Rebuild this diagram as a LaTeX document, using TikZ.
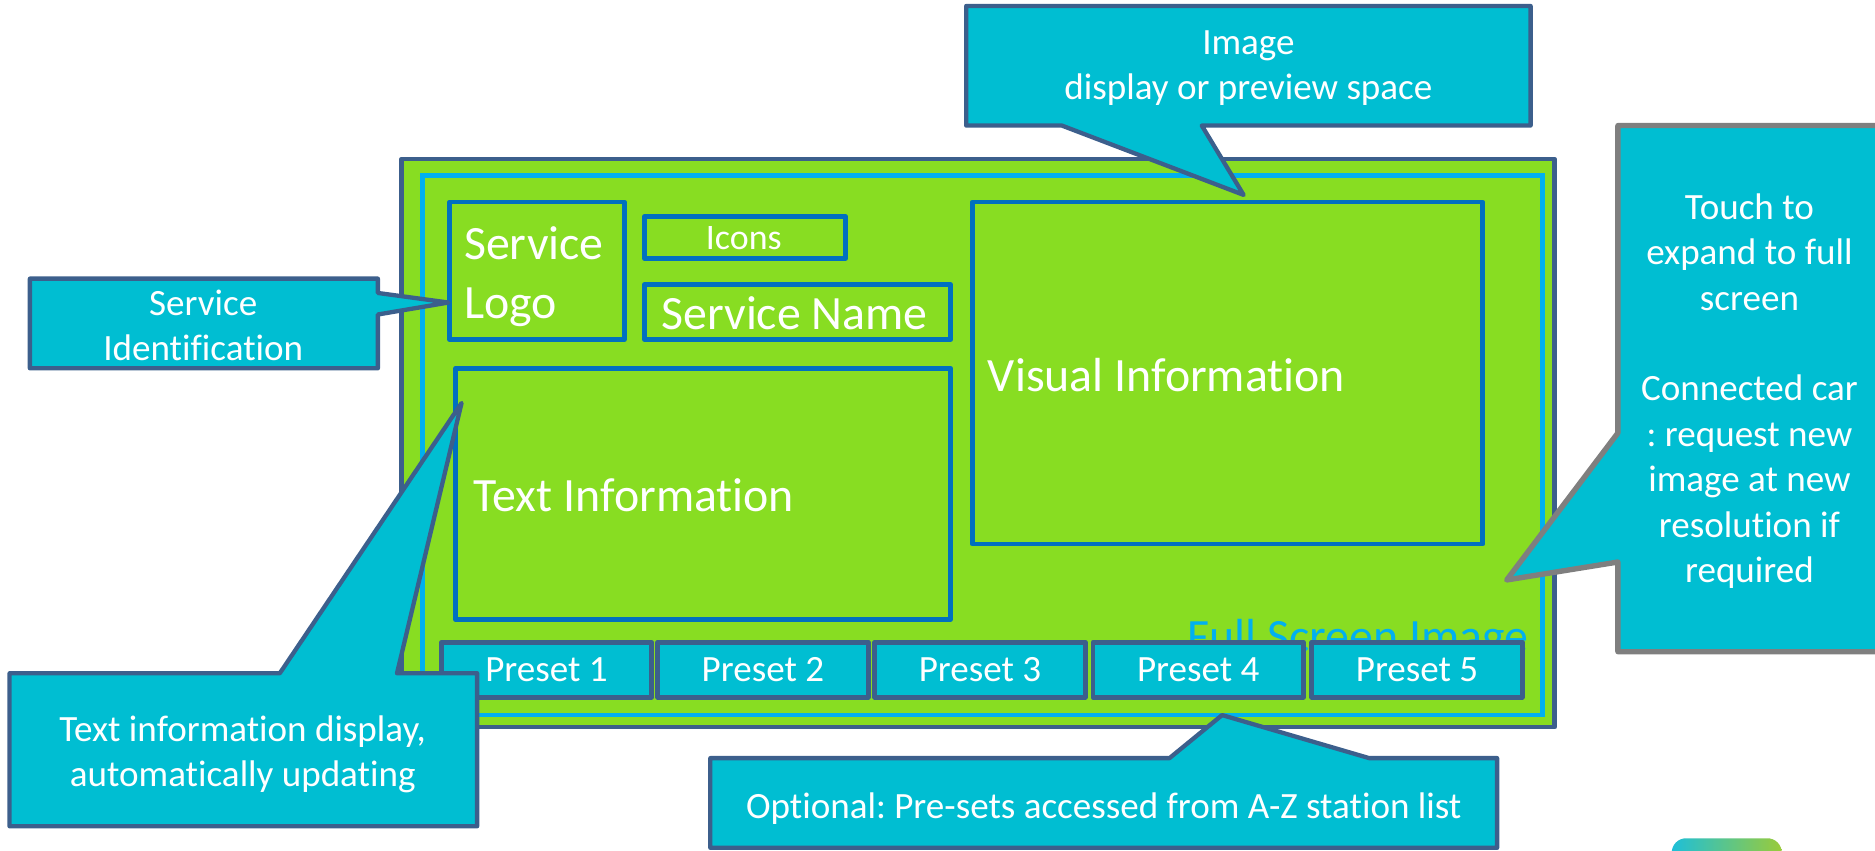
\documentclass[tikz,border=0pt]{standalone}
\usepackage{fontspec}
\setmainfont{Carlito}[RawFeature={-liga;-clig;-calt;-dlig}]
\frenchspacing
\definecolor{scrgreen}{HTML}{88DD22}
\definecolor{framec}{HTML}{3C5F8C}
\definecolor{cyanline}{HTML}{00B0F0}
\definecolor{boxblue}{HTML}{0070C0}
\definecolor{callfill}{HTML}{00BED2}
\definecolor{callgray}{HTML}{7F7F7F}
\definecolor{logoA}{HTML}{1EBFD8}
\definecolor{logoB}{HTML}{9ACB3A}
\begin{document}
\begin{tikzpicture}[x=1pt,y=-1pt,
  screenbox/.style={draw=framec, line width=4pt, fill=scrgreen, line join=round, inner sep=0pt, outer sep=0pt},
  innerline/.style={draw=cyanline, line width=4pt, inner sep=0pt, outer sep=0pt},
  ibox/.style={draw=boxblue, line width=4pt, line join=round, inner sep=0pt, outer sep=0pt},
  presetbox/.style={draw=framec, line width=4pt, fill=callfill, line join=round, inner sep=0pt, outer sep=0pt,
     minimum width=176pt, minimum height=46pt, text=white, font=\fontsize{31}{37}\selectfont},
  calloutbox/.style={draw=framec, line width=3.6pt, fill=callfill, line join=round},
  ctext/.style={text=white, font=\fontsize{31}{38}\selectfont, align=center, inner sep=0pt},
  btext/.style={text=white, font=\fontsize{40}{48}\selectfont, inner sep=0pt, anchor=west},
]
\useasboundingbox (0,0) rectangle (1568,711.6);

% screen
\node[screenbox, minimum width=964pt, minimum height=475pt] (screen) at (818,370.5) {};
\node[innerline, minimum width=937pt, minimum height=451pt] (inner) at (821.5,372.5) {};

% inner boxes
\node[ibox, minimum width=146pt, minimum height=115pt] (logo) at (449,226.5) {};
\node[ibox, minimum width=168pt, minimum height=35pt] (icons) at (623,198.5) {};
\node[ibox, minimum width=256pt, minimum height=46pt] (sname) at (667,261) {};
\node[ibox, minimum width=414pt, minimum height=210pt] (tinfo) at (588,413) {};
\node[ibox, minimum width=427pt, minimum height=286pt] (vinfo) at (1026.5,312) {};

\node[btext, anchor=base west] (logoT1) at (388,217) {Service};
\node[btext, anchor=base west] (logoT2) at (388,266) {Logo};
\node[text=white, font=\fontsize{30}{35}\selectfont, inner sep=0pt] (iconsT) at (622,199) {Icons};
\node[btext] (snameT) at (553,262) {Service Name};
\node[btext] (tinfoT) at (396,414) {Text Information};
\node[btext] (vinfoT) at (826,314) {Visual Information};
\node[btext, anchor=base west, text=cyanline] (fullT) at (993,546) {Full Screen Image};

% presets
\node[presetbox] (p1) at (457,560) {Preset 1};
\node[presetbox] (p2) at (638,560) {Preset 2};
\node[presetbox] (p3) at (819.5,560) {Preset 3};
\node[presetbox] (p4) at (1002,560) {Preset 4};
\node[presetbox] (p5) at (1185,560) {Preset 5};

% callouts
\coordinate (tipA) at (375,253);
\draw[calloutbox] (25,233) -- (316,233) -- (316,245) -- (tipA) -- (316,263) -- (316,308) -- (25,308) -- cycle;
\node[ctext] (sidT) at (170,272) {Service\\Identification};

\coordinate (tipB) at (1040,163);
\draw[calloutbox] (808,5) -- (1280,5) -- (1280,105) -- (1005,105) -- (tipB) -- (888,105) -- (808,105) -- cycle;
\node[ctext] (imgT) at (1044,57) {Image\\display or preview space};

\coordinate (tipC) at (1260,485);
\draw[calloutbox, draw=callgray, line width=4.5pt] (1353,105) -- (1590,105) -- (1590,545) -- (1353,545) -- (1353,470) -- (tipC) -- (1353,362) -- cycle;
\node[ctext] (touchT) at (1463,327) {Touch to\\expand to full\\screen\\[38pt]Connected car\\: request new\\image at new\\resolution if\\required};

\coordinate (tipD) at (386,337);
\draw[calloutbox] (8,563) -- (234,563) -- (tipD) -- (332,563) -- (399,563) -- (399,691) -- (8,691) -- cycle;
\node[ctext] (tdispT) at (203,631) {Text information display,\\automatically updating};

\coordinate (tipE) at (1022,598);
\draw[calloutbox] (594,634) -- (978,634) -- (tipE) -- (1145,634) -- (1252,634) -- (1252,709) -- (594,709) -- cycle;
\node[ctext] (optT) at (923,676) {Optional: Pre-sets accessed from A-Z station list};

% cut-off logo at bottom right
\shade[left color=logoA, right color=logoB, rounded corners=12pt] (1398,701) rectangle (1490,740);
\end{tikzpicture}
\end{document}
